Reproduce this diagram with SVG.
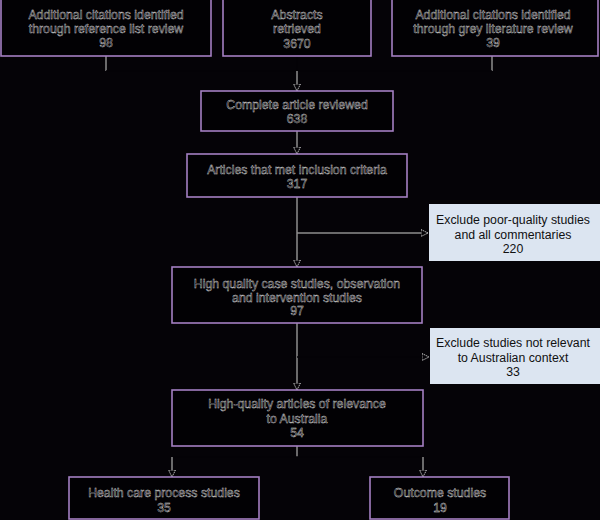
<svg xmlns="http://www.w3.org/2000/svg" width="600" height="520" viewBox="0 0 600 520">
<defs>
<style>
.box{fill:#020104;stroke:#a47fc2;stroke-width:1.6}
.ex{fill:#dce5f1;stroke:none}
.t{font-family:"Liberation Sans",Arial,sans-serif;font-size:12.3px;text-anchor:middle;fill:#050307;stroke:#dcdcdc;stroke-width:0.4}
.te{font-family:"Liberation Sans",Arial,sans-serif;font-size:12.3px;text-anchor:middle;fill:#111}
.ln{stroke:#8e8e8e;stroke-width:1.5;fill:none}
.hid{stroke:#050307;stroke-width:1.5;fill:none}
</style>
<marker id="ah" markerWidth="9" markerHeight="9" refX="7.5" refY="4" orient="auto" markerUnits="userSpaceOnUse">
<path d="M0.5,0.5 L7.5,4 L0.5,7.5 Z" fill="#050307" stroke="#d0d0d0" stroke-width="0.9" stroke-dasharray="1.5,0.8"/>
</marker>
</defs>
<rect x="0" y="0" width="600" height="520" fill="#050307"/>

<g id="connectors">
<line class="ln" x1="106" y1="56" x2="106" y2="71"/>
<line class="ln" x1="492" y1="56" x2="492" y2="71"/>
<line class="hid" x1="297" y1="56" x2="297" y2="71"/>
<line class="hid" x1="106" y1="71" x2="492" y2="71"/>
<line class="ln" x1="297" y1="71" x2="297" y2="91" marker-end="url(#ah)"/>
<line class="ln" x1="297" y1="131" x2="297" y2="154" marker-end="url(#ah)"/>
<line class="ln" x1="297" y1="197" x2="297" y2="267" marker-end="url(#ah)"/>
<line class="ln" x1="297" y1="233" x2="428" y2="233" marker-end="url(#ah)"/>
<line class="ln" x1="297" y1="323" x2="297" y2="390" marker-end="url(#ah)"/>
<line class="hid" x1="297" y1="357" x2="429" y2="357" marker-end="url(#ah)"/>
<line class="ln" x1="297" y1="446" x2="297" y2="457"/>
<line class="hid" x1="172" y1="457" x2="423" y2="457"/>
<line class="ln" x1="172" y1="457" x2="172" y2="477" marker-end="url(#ah)"/>
<line class="ln" x1="423" y1="457" x2="423" y2="477" marker-end="url(#ah)"/>
</g>

<g id="ref-list">
<rect class="box" x="1" y="-2" width="210" height="58"/>
<text class="t" x="106" y="19">Additional citations identified</text>
<text class="t" x="106" y="33">through reference list review</text>
<text class="t" x="106" y="47">98</text>
</g>

<g id="abstracts">
<rect class="box" x="223" y="-2" width="148" height="58"/>
<text class="t" x="297" y="18.5">Abstracts</text>
<text class="t" x="297" y="33">retrieved</text>
<text class="t" x="297" y="47.5">3670</text>
</g>

<g id="grey-lit">
<rect class="box" x="392" y="-2" width="206" height="58"/>
<text class="t" x="493" y="19">Additional citations identified</text>
<text class="t" x="493" y="33">through grey literature review</text>
<text class="t" x="493" y="47">39</text>
</g>

<g id="complete">
<rect class="box" x="201" y="91" width="192" height="40"/>
<text class="t" x="297" y="109">Complete article reviewed</text>
<text class="t" x="297" y="123">638</text>
</g>

<g id="inclusion">
<rect class="box" x="187" y="154" width="220" height="43"/>
<text class="t" x="297" y="174">Articles that met inclusion criteria</text>
<text class="t" x="297" y="188">317</text>
</g>

<g id="exclude-poor">
<rect class="ex" x="429" y="204" width="171" height="57"/>
<text class="te" x="513" y="224">Exclude poor-quality studies</text>
<text class="te" x="513" y="238.5">and all commentaries</text>
<text class="te" x="513" y="253">220</text>
</g>

<g id="high-quality">
<rect class="box" x="172" y="267" width="250" height="56"/>
<text class="t" x="297" y="288">High quality case studies, observation</text>
<text class="t" x="297" y="301.5">and intervention studies</text>
<text class="t" x="297" y="315">97</text>
</g>

<g id="exclude-aus">
<rect class="ex" x="430" y="328" width="170" height="56"/>
<text class="te" x="513" y="347">Exclude studies not relevant</text>
<text class="te" x="513" y="361.5">to Australian context</text>
<text class="te" x="513" y="376">33</text>
</g>

<g id="australia">
<rect class="box" x="172" y="390" width="251" height="56"/>
<text class="t" x="297" y="408">High-quality articles of relevance</text>
<text class="t" x="297" y="422.5">to Australia</text>
<text class="t" x="297" y="437">54</text>
</g>

<g id="process">
<rect class="box" x="69" y="477" width="190" height="42"/>
<text class="t" x="164" y="497">Health care process studies</text>
<text class="t" x="164" y="511.5">35</text>
</g>

<g id="outcome">
<rect class="box" x="370" y="477" width="139" height="42"/>
<text class="t" x="440" y="497">Outcome studies</text>
<text class="t" x="440" y="511.5">19</text>
</g>
</svg>
